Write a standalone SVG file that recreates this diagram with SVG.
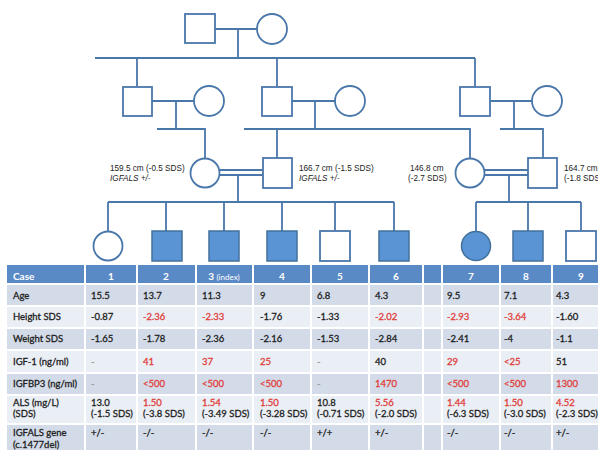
<svg xmlns="http://www.w3.org/2000/svg" width="598" height="450" viewBox="0 0 598 450">
<style>
.ln{fill:none;stroke:#4a77aa;stroke-width:1.8}
.nd{fill:#ffffff;stroke:#4a77aa;stroke-width:1.8}
.af{fill:#5b94d4;stroke:#41719c;stroke-width:1.5}
.pt{font-family:"Liberation Sans",Arial,sans-serif;font-size:8.2px;fill:#222}
.it{font-style:italic}
.hd{font-family:Lato,"Liberation Sans",sans-serif;font-size:10px;font-weight:bold;fill:#ffffff}
.hc{text-anchor:middle}
.tx{font-family:Lato,"Liberation Sans",sans-serif;font-size:9.5px;fill:#1e1e1e;stroke:#1e1e1e;stroke-width:0.3}
.tx .r{fill:#e0403a;stroke:#e0403a}
.tx .g{fill:#999999;stroke:#999999}
.dk{fill:#d3dbe9}
.lt{fill:#eaeef5}
.sep{stroke:#ffffff;stroke-width:2}
</style>
<rect width="598" height="450" fill="#ffffff"/>

<g id="connectors">
<path class="ln" d="M215,29H257M238,29V58M95,58H475M137,58V87M277,58V87M475,58V87"/>
<path class="ln" d="M152,101H194M292,101H335M490,101H532"/>
<path class="ln" d="M176,101V129M315,101V129M514,101V129"/>
<path class="ln" d="M157,129H205V158M244,129H470V158M277,129V158M500,129H543V158"/>
<path class="ln" d="M220,170H263M220,175H263M238,175V202"/>
<path class="ln" d="M485,170H528M485,175H528M509,175V202"/>
<path class="ln" d="M108,202H394M108,202V231M166,202V231M224,202V231M282,202V231M335,202V231M394,202V231"/>
<path class="ln" d="M476,202H581M476,202V231M528,202V231M581,202V231"/>
</g>

<g id="gen1-father"><rect class="nd" x="185" y="14" width="30" height="29"/></g>
<g id="gen1-mother"><circle class="nd" cx="272" cy="29" r="15"/></g>

<g id="gen2-left-man"><rect class="nd" x="123" y="87" width="29" height="29"/></g>
<g id="gen2-left-wife"><circle class="nd" cx="209" cy="101" r="15"/></g>
<g id="gen2-mid-man"><rect class="nd" x="262" y="87" width="30" height="29"/></g>
<g id="gen2-mid-wife"><circle class="nd" cx="350" cy="101" r="15"/></g>
<g id="gen2-right-man"><rect class="nd" x="460" y="87" width="30" height="29"/></g>
<g id="gen2-right-wife"><circle class="nd" cx="547" cy="101" r="15"/></g>

<g id="gen3-mother-a">
<circle class="nd" cx="205" cy="173" r="14.5"/>
<text class="pt" x="110" y="171">159.5 cm (-0.5 SDS)</text>
<text class="pt it" x="110" y="181">IGFALS +/-</text>
</g>
<g id="gen3-father-a">
<rect class="nd" x="263" y="158" width="29" height="30"/>
<text class="pt" x="299" y="171">166.7 cm (-1.5 SDS)</text>
<text class="pt it" x="299" y="181">IGFALS +/-</text>
</g>
<g id="gen3-mother-b">
<circle class="nd" cx="470" cy="173" r="14.5"/>
<text class="pt" x="410" y="171">146.8 cm</text>
<text class="pt" x="408" y="181">(-2.7 SDS)</text>
</g>
<g id="gen3-father-b">
<rect class="nd" x="528" y="158" width="29" height="30"/>
<text class="pt" x="564" y="171">164.7 cm</text>
<text class="pt" x="564" y="181">(-1.8 SDS)</text>
</g>

<g id="child-1"><circle class="nd" cx="108" cy="246" r="14.5"/></g>
<g id="child-2"><rect class="af" x="152" y="231" width="30" height="30"/></g>
<g id="child-3"><rect class="af" x="209" y="231" width="30" height="30"/></g>
<g id="child-4"><rect class="af" x="267" y="231" width="30" height="30"/></g>
<g id="child-5"><rect class="nd" x="320" y="231" width="30" height="30"/></g>
<g id="child-6"><rect class="af" x="379" y="231" width="30" height="30"/></g>
<g id="child-7"><circle class="af" cx="476" cy="246" r="14.5"/></g>
<g id="child-8"><rect class="af" x="513" y="231" width="30" height="30"/></g>
<g id="child-9"><rect class="nd" x="566" y="231" width="30" height="30"/></g>

<g id="table">
<rect x="7" y="265" width="600" height="19" fill="#5a8ac6"/>
<rect class="dk" x="7" y="284" width="600" height="22"/>
<rect class="lt" x="7" y="306" width="600" height="22"/>
<rect class="dk" x="7" y="328" width="600" height="22"/>
<rect class="lt" x="7" y="350" width="600" height="23"/>
<rect class="dk" x="7" y="373" width="600" height="22"/>
<rect class="lt" x="7" y="395" width="600" height="29"/>
<rect class="dk" x="7" y="424" width="600" height="30"/>
<path class="sep" d="M7,284H598M7,306H598M7,328H598M7,350H598M7,373H598M7,395H598M7,424H598"/>
<path class="sep" d="M85,265V450M137,265V450M196,265V450M253,265V450M311,265V450M369,265V450M423,265V450M442,265V450M500,265V450M552,265V450"/>

<text class="hd" x="13" y="280">Case</text>
<text class="hd hc" x="111" y="280">1</text>
<text class="hd hc" x="166" y="280">2</text>
<text class="hd hc" x="224" y="280">3 <tspan font-size="8" font-weight="normal">(index)</tspan></text>
<text class="hd hc" x="282" y="280">4</text>
<text class="hd hc" x="340" y="280">5</text>
<text class="hd hc" x="396" y="280">6</text>
<text class="hd hc" x="471" y="280">7</text>
<text class="hd hc" x="526" y="280">8</text>
<text class="hd hc" x="581" y="280">9</text>

<g class="tx">
<text x="13" y="299">Age</text>
<text x="13" y="320">Height SDS</text>
<text x="13" y="342">Weight SDS</text>
<text x="13" y="365">IGF-1 (ng/ml)</text>
<text x="13" y="387">IGFBP3 (ng/ml)</text>
<text x="13" y="406">ALS (mg/L)</text>
<text x="13" y="417">(SDS)</text>
<text x="13" y="436">IGFALS gene</text>
<text x="13" y="448">(c.1477del)</text>

<text x="91" y="299">15.5</text>
<text x="91" y="320">-0.87</text>
<text x="91" y="342">-1.65</text>
<text class="g" x="91" y="365">-</text>
<text class="g" x="91" y="387">-</text>
<text x="91" y="406">13.0</text>
<text x="91" y="417">(-1.5 SDS)</text>
<text x="91" y="436">+/-</text>

<text x="143" y="299">13.7</text>
<text class="r" x="143" y="320">-2.36</text>
<text x="143" y="342">-1.78</text>
<text class="r" x="143" y="365">41</text>
<text class="r" x="143" y="387">&lt;500</text>
<text class="r" x="143" y="406">1.50</text>
<text x="143" y="417">(-3.8 SDS)</text>
<text x="143" y="436">-/-</text>

<text x="202" y="299">11.3</text>
<text class="r" x="202" y="320">-2.33</text>
<text x="202" y="342">-2.36</text>
<text class="r" x="202" y="365">37</text>
<text class="r" x="202" y="387">&lt;500</text>
<text class="r" x="202" y="406">1.54</text>
<text x="202" y="417">(-3.49 SDS)</text>
<text x="202" y="436">-/-</text>

<text x="260" y="299">9</text>
<text x="260" y="320">-1.76</text>
<text x="260" y="342">-2.16</text>
<text class="r" x="260" y="365">25</text>
<text class="r" x="260" y="387">&lt;500</text>
<text class="r" x="260" y="406">1.50</text>
<text x="260" y="417">(-3.28 SDS)</text>
<text x="260" y="436">-/-</text>

<text x="317" y="299">6.8</text>
<text x="317" y="320">-1.33</text>
<text x="317" y="342">-1.53</text>
<text class="g" x="317" y="365">-</text>
<text class="g" x="317" y="387">-</text>
<text x="317" y="406">10.8</text>
<text x="317" y="417">(-0.71 SDS)</text>
<text x="317" y="436">+/+</text>

<text x="375" y="299">4.3</text>
<text class="r" x="375" y="320">-2.02</text>
<text x="375" y="342">-2.84</text>
<text x="375" y="365">40</text>
<text class="r" x="375" y="387">1470</text>
<text class="r" x="375" y="406">5.56</text>
<text x="375" y="417">(-2.0 SDS)</text>
<text x="375" y="436">+/-</text>

<text x="447" y="299">9.5</text>
<text class="r" x="447" y="320">-2.93</text>
<text x="447" y="342">-2.41</text>
<text class="r" x="447" y="365">29</text>
<text class="r" x="447" y="387">&lt;500</text>
<text class="r" x="447" y="406">1.44</text>
<text x="447" y="417">(-6.3 SDS)</text>
<text x="447" y="436">-/-</text>

<text x="504" y="299">7.1</text>
<text class="r" x="504" y="320">-3.64</text>
<text x="504" y="342">-4</text>
<text class="r" x="504" y="365">&lt;25</text>
<text class="r" x="504" y="387">&lt;500</text>
<text class="r" x="504" y="406">1.50</text>
<text x="504" y="417">(-3.0 SDS)</text>
<text x="504" y="436">-/-</text>

<text x="556" y="299">4.3</text>
<text x="556" y="320">-1.60</text>
<text x="556" y="342">-1.1</text>
<text x="556" y="365">51</text>
<text class="r" x="556" y="387">1300</text>
<text class="r" x="556" y="406">4.52</text>
<text x="556" y="417">(-2.3 SDS)</text>
<text x="556" y="436">+/-</text>
</g>
</g>
</svg>
